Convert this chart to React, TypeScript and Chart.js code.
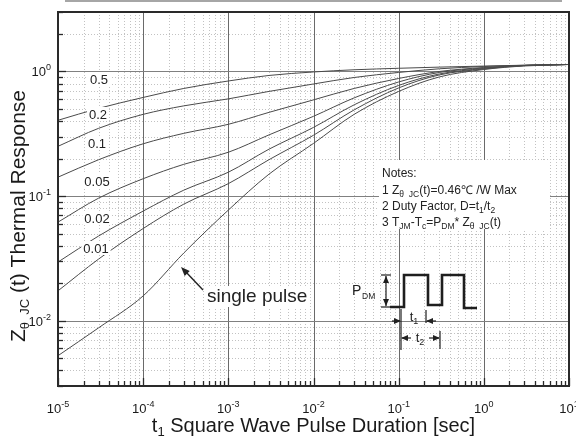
import React, { useEffect, useRef } from 'react';
import { Chart, registerables } from 'chart.js';

Chart.register(...registerables);

const FONT = '"Liberation Sans", Arial, Helvetica, sans-serif';

// t1 pulse durations [s]
const pulseDurations = [1e-5, 3e-5, 1e-4, 3e-4, 1e-3, 3e-3, 1e-2, 3e-2, 1e-1, 3e-1, 1, 3, 10];
const curveNames = ['0.5', '0.2', '0.1', '0.05', '0.02', '0.01', 'single pulse'];
// normalized thermal response Z(t)
const zD050 = [0.406, 0.506, 0.619, 0.731, 0.839, 0.929, 0.991, 1.032, 1.061, 1.084, 1.105, 1.123, 1.138];
const zD020 = [0.251, 0.35, 0.453, 0.53, 0.603, 0.692, 0.794, 0.895, 0.982, 1.051, 1.096, 1.121, 1.138];
const zD010 = [0.142, 0.196, 0.263, 0.319, 0.377, 0.47, 0.592, 0.731, 0.879, 1.0, 1.076, 1.117, 1.138];
const zD005 = [0.0619, 0.0964, 0.138, 0.18, 0.225, 0.31, 0.437, 0.614, 0.824, 0.982, 1.067, 1.117, 1.138];
const zD002 = [0.0296, 0.0479, 0.0759, 0.1117, 0.1556, 0.238, 0.356, 0.54, 0.773, 0.955, 1.057, 1.117, 1.138];
const zD001 = [0.0174, 0.0313, 0.055, 0.0863, 0.126, 0.196, 0.308, 0.492, 0.738, 0.938, 1.047, 1.117, 1.138];
const zSingle = [0.00525, 0.00879, 0.01585, 0.035, 0.0773, 0.15, 0.265, 0.453, 0.692, 0.904, 1.037, 1.107, 1.138];

const xTickExponents = [-5, -4, -3, -2, -1, 0, 1];
const yTickExponents = [-2, -1, 0];
const xMin = 1e-5;
const xMax = 10;
const yMin = 0.003;
const yMax = 3;

const xTitle = 'Square Wave Pulse Duration [sec]';
const yTitle = '(t) Thermal Response';
const noteLines = ['Notes:', '1 Z', '2 Duty Factor, D=t', '3 T'];

type Part = { t: string; size: number; dy?: number };

function drawRich(ctx: CanvasRenderingContext2D, parts: Part[], x: number, y: number, align: 'left' | 'center' | 'right', color = '#222') {
  let total = 0;
  const widths = parts.map((p) => {
    ctx.font = `${p.size}px ${FONT}`;
    const w = ctx.measureText(p.t).width;
    total += w;
    return w;
  });
  let cx = align === 'left' ? x : align === 'center' ? x - total / 2 : x - total;
  ctx.fillStyle = color;
  ctx.textAlign = 'left';
  ctx.textBaseline = 'alphabetic';
  parts.forEach((p, i) => {
    ctx.font = `${p.size}px ${FONT}`;
    ctx.fillText(p.t, cx, y + (p.dy || 0));
    cx += widths[i];
  });
  return total;
}

function line(ctx: CanvasRenderingContext2D, x1: number, y1: number, x2: number, y2: number) {
  ctx.beginPath();
  ctx.moveTo(x1, y1);
  ctx.lineTo(x2, y2);
  ctx.stroke();
}

function arrowHead(ctx: CanvasRenderingContext2D, tipX: number, tipY: number, fromX: number, fromY: number, len = 7, half = 3) {
  const a = Math.atan2(tipY - fromY, tipX - fromX);
  ctx.beginPath();
  ctx.moveTo(tipX, tipY);
  ctx.lineTo(tipX - len * Math.cos(a) + half * Math.sin(a), tipY - len * Math.sin(a) - half * Math.cos(a));
  ctx.lineTo(tipX - len * Math.cos(a) - half * Math.sin(a), tipY - len * Math.sin(a) + half * Math.cos(a));
  ctx.closePath();
  ctx.fill();
}

const gridPlugin = {
  id: 'logGrid',
  beforeDatasetsDraw(chart: any) {
    const { ctx, chartArea: ca, scales } = chart;
    const xs = scales.x;
    const ys = scales.y;
    ctx.save();
    ctx.lineWidth = 1;
    ctx.strokeStyle = '#c2c2c2';
    ctx.setLineDash([1, 2]);
    for (let e = -5; e <= 0; e++) {
      for (let m = 2; m <= 9; m++) {
        const px = Math.round(xs.getPixelForValue(m * 10 ** e)) + 0.5;
        line(ctx, px, ca.top, px, ca.bottom);
      }
    }
    for (let e = -3; e <= 0; e++) {
      for (let m = 2; m <= 9; m++) {
        const v = m * 10 ** e;
        if (v < yMin * 0.999 || v > yMax * 1.001) continue;
        const py = Math.round(ys.getPixelForValue(v)) + 0.5;
        line(ctx, ca.left, py, ca.right, py);
      }
    }
    ctx.setLineDash([]);
    ctx.strokeStyle = '#6a6a6a';
    for (let e = -4; e <= 0; e++) {
      const px = Math.round(xs.getPixelForValue(10 ** e)) + 0.5;
      line(ctx, px, ca.top, px, ca.bottom);
    }
    ctx.strokeStyle = '#808080';
    for (let e = -2; e <= 0; e++) {
      const py = Math.round(ys.getPixelForValue(10 ** e)) + 0.5;
      line(ctx, ca.left, py, ca.right, py);
    }
    ctx.restore();
  },
};

const overlayPlugin = {
  id: 'overlay',
  afterDatasetsDraw(chart: any) {
    const { ctx, chartArea: ca, scales } = chart;
    const xs = scales.x;
    const ys = scales.y;
    ctx.save();

    // curve labels with white backgrounds
    const labelPos: [number, number][] = [
      [99, 79], [98, 114], [97, 143], [97, 181], [97, 218], [96, 248],
    ];
    curveNames.slice(0, 6).forEach((name, i) => {
      const [cx, cy] = labelPos[i];
      ctx.font = `13px ${FONT}`;
      const w = ctx.measureText(name).width;
      ctx.fillStyle = '#fff';
      ctx.fillRect(cx - w / 2 - 2, cy - 7, w + 4, 14);
      drawRich(ctx, [{ t: name, size: 13 }], cx, cy + 4.7, 'center');
    });

    // single pulse label + arrow
    ctx.font = `19px ${FONT}`;
    const spW = ctx.measureText(curveNames[6]).width;
    ctx.fillStyle = '#fff';
    ctx.fillRect(205, 286, spW + 4, 21);
    drawRich(ctx, [{ t: curveNames[6], size: 19 }], 207, 302, 'left');
    ctx.strokeStyle = '#222';
    ctx.fillStyle = '#222';
    ctx.lineWidth = 1.4;
    line(ctx, 203, 290, 185, 271);
    arrowHead(ctx, 181, 267, 203, 290, 9, 3.5);

    // notes box
    ctx.fillStyle = '#fff';
    ctx.fillRect(379, 160, 171, 69);
    const ns = 12;
    const sub = 8.5;
    drawRich(ctx, [{ t: noteLines[0], size: ns }], 382, 177, 'left');
    drawRich(ctx, [
      { t: noteLines[1], size: ns }, { t: 'θ  JC', size: sub, dy: 3 }, { t: '(t)=0.46℃ /W Max', size: ns },
    ], 382, 194, 'left');
    drawRich(ctx, [
      { t: noteLines[2], size: ns }, { t: '1', size: sub, dy: 3 }, { t: '/t', size: ns }, { t: '2', size: sub, dy: 3 },
    ], 382, 210, 'left');
    drawRich(ctx, [
      { t: noteLines[3], size: ns }, { t: 'JM', size: sub, dy: 3 }, { t: '-T', size: ns }, { t: 'c', size: sub, dy: 3 },
      { t: '=P', size: ns }, { t: 'DM', size: sub, dy: 3 }, { t: '* Z', size: ns }, { t: 'θ  JC', size: sub, dy: 3 }, { t: '(t)', size: ns },
    ], 382, 226, 'left');

    // pulse waveform
    ctx.strokeStyle = '#1e1e1e';
    ctx.lineWidth = 2.6;
    ctx.lineJoin = 'miter';
    ctx.beginPath();
    const wave = [[390, 307], [404, 307], [404, 275], [428, 275], [428, 305], [442, 305], [442, 275], [464, 275], [464, 308], [477, 308]];
    wave.forEach(([px, py], i) => (i === 0 ? ctx.moveTo(px, py) : ctx.lineTo(px, py)));
    ctx.stroke();

    // PDM dimension
    ctx.lineWidth = 1.2;
    ctx.fillStyle = '#1e1e1e';
    line(ctx, 381, 275, 391, 275);
    line(ctx, 381, 307, 391, 307);
    line(ctx, 386, 276, 386, 306);
    arrowHead(ctx, 386, 276, 386, 290, 7, 3);
    arrowHead(ctx, 386, 306, 386, 292, 7, 3);
    drawRich(ctx, [{ t: 'P', size: 14 }], 352, 295, 'left');
    drawRich(ctx, [{ t: 'DM', size: 8.5 }], 362, 299, 'left');

    // t1 / t2 dimensions
    line(ctx, 401, 309, 401, 350);
    line(ctx, 426, 310, 426, 323);
    line(ctx, 440, 331, 440, 349);
    line(ctx, 392, 321, 400, 321);
    arrowHead(ctx, 401, 321, 392, 321, 7, 3);
    line(ctx, 427, 321, 436, 321);
    arrowHead(ctx, 426, 321, 436, 321, 7, 3);
    drawRich(ctx, [{ t: 't', size: 13 }, { t: '1', size: 9, dy: 3 }], 414, 321, 'center');
    line(ctx, 402, 338, 411, 338);
    arrowHead(ctx, 401, 338, 411, 338, 7, 3);
    line(ctx, 429, 338, 439, 338);
    arrowHead(ctx, 440, 338, 429, 338, 7, 3);
    drawRich(ctx, [{ t: 't', size: 13 }, { t: '2', size: 9, dy: 3 }], 420, 342, 'center');

    // inward ticks
    ctx.strokeStyle = '#2a2a2a';
    ctx.lineWidth = 1.3;
    for (let e = -3; e <= 0; e++) {
      for (let m = 1; m <= 9; m++) {
        const v = m * 10 ** e;
        if (v < yMin * 0.999 || v > yMax * 1.001) continue;
        const py = Math.round(ys.getPixelForValue(v)) + 0.5;
        line(ctx, ca.left, py, ca.left + (m === 1 ? 8 : 5), py);
      }
    }
    for (let e = -5; e <= 1; e++) {
      for (let m = 1; m <= 9; m++) {
        const v = m * 10 ** e;
        if (v < xMin * 0.999 || v > xMax * 1.001) continue;
        const px = Math.round(xs.getPixelForValue(v)) + 0.5;
        line(ctx, px, ca.bottom, px, ca.bottom - (m === 1 ? 8 : 5));
      }
    }

    // frame
    ctx.strokeStyle = '#2a2a2a';
    ctx.lineWidth = 2;
    ctx.strokeRect(ca.left, ca.top, ca.right - ca.left, ca.bottom - ca.top);

    // stray rule at top
    ctx.fillStyle = '#a6a6a6';
    ctx.fillRect(65, 0, 497, 2);

    // x tick labels
    xTickExponents.forEach((e) => {
      const px = xs.getPixelForValue(10 ** e);
      drawRich(ctx, [{ t: '10', size: 13 }, { t: String(e), size: 9, dy: -6 }], px, 413, 'center', '#1a1a1a');
    });
    // y tick labels
    yTickExponents.forEach((e) => {
      const py = ys.getPixelForValue(10 ** e);
      drawRich(ctx, [{ t: '10', size: 13 }, { t: String(e), size: 9, dy: -6 }], 51, py + 5, 'right', '#1a1a1a');
    });

    // x title
    drawRich(ctx, [{ t: 't', size: 20 }, { t: '1', size: 13, dy: 4 }, { t: ' ' + xTitle, size: 20 }], (ca.left + ca.right) / 2, 432, 'center', '#1a1a1a');

    // y title (rotated)
    ctx.save();
    ctx.translate(25, 216);
    ctx.rotate(-Math.PI / 2);
    drawRich(ctx, [{ t: 'Z', size: 21 }, { t: 'θ  JC', size: 13, dy: 4 }, { t: ' ' + yTitle, size: 21 }], 0, 0, 'center', '#1a1a1a');
    ctx.restore();

    ctx.restore();
  },
};

export default function App() {
  const ref = useRef<HTMLCanvasElement>(null);
  useEffect(() => {
    document.body.style.margin = '0';
    const canvas = ref.current!;
    const series = [zD050, zD020, zD010, zD005, zD002, zD001, zSingle];
    const chart = new Chart(canvas, {
      type: 'line',
      data: {
        datasets: series.map((arr, i) => ({
          label: curveNames[i],
          data: pulseDurations.map((t, j) => ({ x: t, y: arr[j] })),
          borderColor: '#4a4a4a',
          borderWidth: 1,
          pointRadius: 0,
          cubicInterpolationMode: 'monotone' as const,
          fill: false,
        })),
      },
      options: {
        animation: false,
        responsive: false,
        devicePixelRatio: 1,
        events: [],
        layout: { padding: { left: 58, right: 7, top: 12, bottom: 58 } },
        plugins: { legend: { display: false }, tooltip: { enabled: false } },
        scales: {
          x: { type: 'logarithmic', min: xMin, max: xMax, display: false },
          y: { type: 'logarithmic', min: yMin, max: yMax, display: false },
        },
      },
      plugins: [gridPlugin, overlayPlugin],
    });
    return () => chart.destroy();
  }, []);
  return <canvas ref={ref} width={576} height={444} style={{ display: 'block' }} />;
}
